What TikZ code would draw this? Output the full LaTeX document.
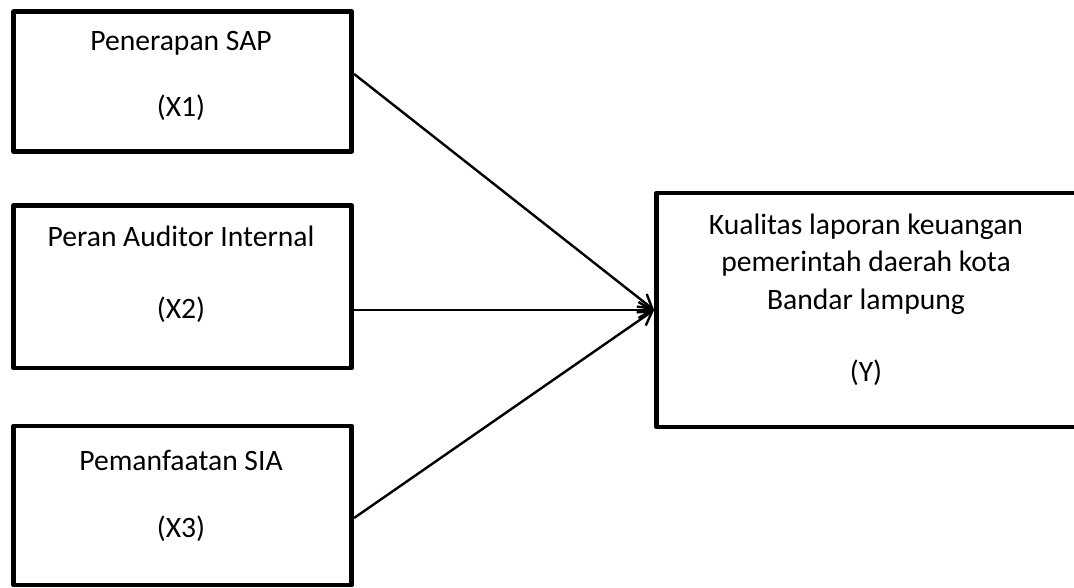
\documentclass[tikz,border=0pt]{standalone}
\usepackage{fontspec}
\setmainfont{Carlito}
\usetikzlibrary{arrows.meta,calc}
\begin{document}
\begin{tikzpicture}[x=0.75pt,y=-0.75pt,
  box/.style={draw=black,line width=3.6pt,line join=round,fill=none,inner sep=0pt,outer sep=0.5\pgflinewidth},
  txt/.style={inner sep=0pt,anchor=base,font=\fontsize{22.2pt}{26pt}\selectfont},
  conn/.style={draw=black,line width=1.8pt,-{Straight Barb[length=10pt,width=12pt,line width=1.8pt]}}]
\useasboundingbox (0,0) rectangle (1074,588);
% boxes
\node[box,minimum width=337.9*0.75pt,minimum height=139.8*0.75pt] (x1) at (182.75,81.6) {};
\node[box,minimum width=337.9*0.75pt,minimum height=162.5*0.75pt] (x2) at (182.75,286.75) {};
\node[box,minimum width=337.9*0.75pt,minimum height=159*0.75pt] (x3) at (182.75,505.5) {};
\node[box,minimum width=421*0.75pt,minimum height=234*0.75pt] (y) at (867,310) {};
% texts
\node[txt] (x1a) at (181,50.7) {Penerapan SAP};
\node[txt] (x1b) at (181,116.7) {(X1)};
\node[txt] (x2a) at (181,246.7) {Peran Auditor Internal};
\node[txt] (x2b) at (181,318.3) {(X2)};
\node[txt] (x3a) at (181,470) {Pemanfaatan SIA};
\node[txt] (x3b) at (181,537.3) {(X3)};
\node[txt] (ya) at (866,234.3) {Kualitas laporan keuangan};
\node[txt] (yb) at (866,271.7) {pemerintah daerah kota};
\node[txt] (yc) at (866,309.3) {Bandar lampung};
\node[txt] (yd) at (866,381.7) {(Y)};
% connectors
\coordinate (s1) at (x1.east |- 0,74);
\coordinate (s2) at (x2.east |- y.west);
\coordinate (s3) at (x3.east |- 0,518);
\draw[conn] (s1) -- (y.west);
\draw[conn] (s2) -- (y.west);
\draw[conn] (s3) -- (y.west);
\end{tikzpicture}
\end{document}
